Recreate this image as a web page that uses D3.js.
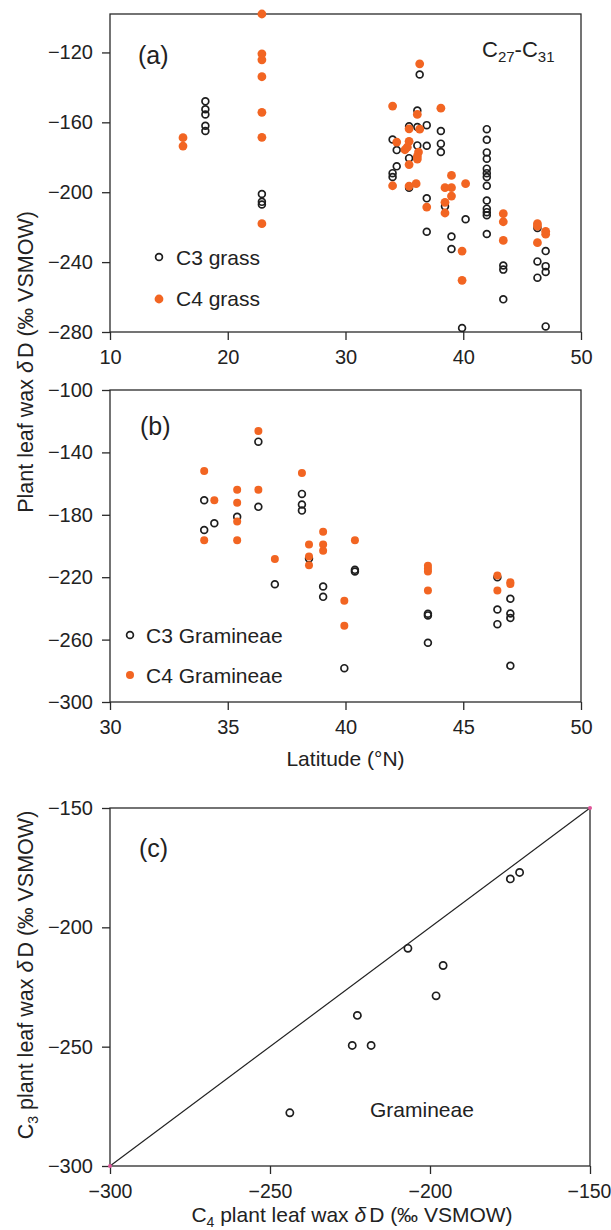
<!DOCTYPE html>
<html>
<head>
<meta charset="utf-8">
<script src="https://cdn.jsdelivr.net/npm/d3@7/dist/d3.min.js"></script>
<style>
  html, body { margin: 0; padding: 0; background: #fff; }
  svg { display: block; }
  text { font-family: "Liberation Sans", Arial, Helvetica, sans-serif; fill: #222; }
</style>
</head>
<body>
<svg id="chart" width="611" height="1230"></svg>
<script>
// ---------- DATA ----------
// Panel (a): C27-C31, [latitude °N, δD ‰]
const aC3 = [
  [18.1,-148],[18.1,-152.5],[18.1,-155.5],[18.1,-162],[18.1,-165],
  [22.9,-201],[22.9,-205.5],[22.9,-207],
  [36.3,-132.6],[36.1,-153.2],[34.0,-169.8],[35.4,-162.3],[36.1,-162.7],[36.9,-161.6],[38.1,-165],
  [34.35,-175.9],[36.1,-173.2],[36.9,-173.4],[38.1,-172.2],[38.1,-177],[35.4,-180.5],[34.35,-185.2],
  [34.0,-189.1],[34.0,-191.3],[35.4,-197.4],[36.9,-203.5],[38.45,-208.1],[36.9,-222.6],[39.0,-225.3],
  [39.0,-232.5],[40.2,-215.5],[39.9,-277.7],
  [42.0,-163.9],[42.0,-170],[42.0,-177.2],[42.0,-180.8],[42.0,-186.5],[42.0,-189.1],[42.0,-191.3],
  [42.0,-196.3],[42.0,-204.7],[42.0,-209.4],[42.0,-211.4],[42.0,-213.2],[42.0,-223.9],
  [43.4,-241.9],[43.4,-244.3],[43.4,-261.3],
  [46.3,-220.5],[46.3,-239.6],[46.3,-248.9],
  [47.0,-233.7],[47.0,-242.3],[47.0,-245.7],[47.0,-276.8]
];
const aC4 = [
  [16.2,-168.8],[16.2,-173.6],
  [22.9,-98],[22.9,-120.8],[22.9,-124.2],[22.9,-133.9],[22.9,-154.3],[22.9,-168.6],[22.9,-218],
  [36.3,-126.5],[34.0,-150.7],[38.1,-151.9],[36.1,-155.5],[35.4,-163.7],[36.3,-163.9],[34.35,-171.3],
  [35.4,-170.9],[35.25,-174.2],[35.05,-175.7],[36.2,-177],[36.1,-179.5],[36.1,-181],[35.4,-184.2],
  [34.0,-196.3],[35.4,-196.5],[36.0,-195.1],[39.0,-190.4],[38.45,-197.4],[39.0,-197.4],[39.0,-202.2],
  [40.2,-195.1],[38.45,-205.8],[36.9,-208.5],[38.45,-211.9],[39.9,-233.7],[39.9,-250.4],
  [43.4,-212.3],[43.4,-216.9],[43.4,-227.6],
  [46.3,-218],[46.3,-219.4],[47.0,-222.4],[47.0,-224],[46.3,-228.9]
];
// Panel (b): Gramineae, [latitude °N, δD ‰]
const bC3 = [
  [34.0,-170.7],[34.0,-189.7],[34.43,-185.4],[35.4,-181.3],[36.3,-133.1],[36.3,-174.9],[37.0,-224.5],
  [38.15,-166.6],[38.15,-173.4],[38.15,-177.3],[38.45,-208],[39.05,-226],[39.05,-232.6],[39.95,-278.3],
  [40.4,-215.3],[40.4,-216.3],[43.5,-243.4],[43.5,-244.5],[43.5,-262],
  [46.45,-220],[46.45,-240.7],[46.45,-250.1],[47.0,-233.8],[47.0,-243.3],[47.0,-246.2],[47.0,-276.8]
];
const bC4 = [
  [34.0,-151.9],[34.0,-196.3],[34.43,-170.7],[35.4,-164],[35.4,-172.2],[35.4,-184.3],[35.4,-196.3],
  [36.3,-126.3],[36.3,-164],[37.0,-208.4],[38.15,-153.2],[38.45,-199.1],[38.45,-206.8],[38.45,-212.3],
  [39.05,-190.9],[39.05,-199.1],[39.05,-203.1],[39.95,-235.1],[39.95,-251.1],[40.4,-196.3],
  [43.5,-212.7],[43.5,-214.6],[43.5,-216.3],[43.5,-228.5],
  [46.45,-218.9],[46.45,-228.5],[47.0,-223.2],[47.0,-224.4]
];
// Panel (c): [C4 δD, C3 δD]
const cPairs = [
  [-174.9,-179.7],[-172.0,-177.0],[-206.9,-208.8],[-195.9,-216.0],[-198.1,-228.7],
  [-222.7,-236.9],[-224.3,-249.5],[-218.4,-249.5],[-243.8,-277.7]
];
const cLine = [[-300,-300],[-150,-150]];

const aXTicks = [10,20,30,40,50];
const aYTicks = [-280,-240,-200,-160,-120];
const bXTicks = [30,35,40,45,50];
const bYTicks = [-300,-260,-220,-180,-140,-100];
const cTicks = [-300,-250,-200,-150];

// ---------- DRAWING ----------
const svg = d3.select("#chart");
const ORANGE = "#f26522";
const INK = "#1e1e1e";
const FS = 20;

function frame(g, x0, x1, y0, y1) {
  g.append("rect").attr("x", x0).attr("y", y0).attr("width", x1 - x0).attr("height", y1 - y0)
    .attr("fill", "none").attr("stroke", "#2a2a2a").attr("stroke-width", 1.3);
}
function styleAxis(sel, fs) {
  sel.select(".domain").remove();
  sel.selectAll(".tick line").attr("stroke", "#2a2a2a").attr("stroke-width", 1.3);
  sel.selectAll(".tick text").attr("font-size", fs || FS).attr("fill", "#222")
    .style("font-family", '"Liberation Sans", Arial, sans-serif');
}
const fmt = d3.format("d");

function panel(opts) {
  const g = svg.append("g");
  const x = d3.scaleLinear().domain(opts.xDom).range([opts.x0, opts.x1]);
  const y = d3.scaleLinear().domain(opts.yDom).range([opts.y1, opts.y0]);
  const ax = g.append("g").attr("transform", `translate(0,${opts.y1})`)
    .call(d3.axisBottom(x).tickValues(opts.xTicks).tickFormat(fmt).tickSize(8).tickSizeOuter(0).tickPadding(10));
  styleAxis(ax, opts.xfs);
  ax.selectAll(".tick text").attr("dy", "0.71em");
  const ay = g.append("g").attr("transform", `translate(${opts.x0},0)`)
    .call(d3.axisLeft(y).tickValues(opts.yTicks).tickFormat(fmt).tickSize(8).tickSizeOuter(0).tickPadding(9));
  styleAxis(ay);
  frame(g, opts.x0, opts.x1, opts.y0, opts.y1);
  return {g, x, y, ax};
}

function openPts(g, data, x, y, r) {
  g.append("g").selectAll("circle").data(data).join("circle")
    .attr("cx", d => x(d[0])).attr("cy", d => y(d[1])).attr("r", r)
    .attr("fill", "none").attr("stroke", INK).attr("stroke-width", 1.7);
}
function fillPts(g, data, x, y, r) {
  g.append("g").selectAll("circle").data(data).join("circle")
    .attr("cx", d => x(d[0])).attr("cy", d => y(d[1])).attr("r", r)
    .attr("fill", ORANGE);
}

// Panel (a)
const A = panel({xDom: [10, 50], yDom: [-280, -98], x0: 110, x1: 581, y0: 14, y1: 332,
  xTicks: aXTicks, yTicks: aYTicks});
openPts(A.g, aC3, A.x, A.y, 3.4);
fillPts(A.g, aC4, A.x, A.y, 4.4);
A.g.append("text").attr("x", 138).attr("y", 64).attr("font-size", 25).text("(a)");
const lab = A.g.append("text").attr("x", 482).attr("y", 57).attr("font-size", 22);
lab.append("tspan").text("C");
lab.append("tspan").attr("font-size", 15).attr("dy", 5).text("27");
lab.append("tspan").attr("dy", -5).text("-C");
lab.append("tspan").attr("font-size", 15).attr("dy", 5).text("31");
A.g.append("circle").attr("cx", 159).attr("cy", 257).attr("r", 3.4).attr("fill", "none").attr("stroke", INK).attr("stroke-width", 1.7);
A.g.append("text").attr("x", 176).attr("y", 265).attr("font-size", 21).text("C3 grass");
A.g.append("circle").attr("cx", 159).attr("cy", 299).attr("r", 4.4).attr("fill", ORANGE);
A.g.append("text").attr("x", 176).attr("y", 306).attr("font-size", 21).text("C4 grass");

// Panel (b)
const B = panel({xDom: [30, 50], yDom: [-300, -100], x0: 110, x1: 581, y0: 390, y1: 702,
  xTicks: bXTicks, yTicks: bYTicks});
openPts(B.g, bC3, B.x, B.y, 3.4);
fillPts(B.g, bC4, B.x, B.y, 4.0);
B.g.append("text").attr("x", 140).attr("y", 435).attr("font-size", 25).text("(b)");
B.g.append("circle").attr("cx", 130).attr("cy", 635).attr("r", 3.4).attr("fill", "none").attr("stroke", INK).attr("stroke-width", 1.7);
B.g.append("text").attr("x", 146).attr("y", 643).attr("font-size", 21).text("C3 Gramineae");
B.g.append("circle").attr("cx", 130).attr("cy", 675).attr("r", 4.0).attr("fill", ORANGE);
B.g.append("text").attr("x", 146).attr("y", 683).attr("font-size", 21).text("C4 Gramineae");
svg.append("text").attr("x", 345.5).attr("y", 766).attr("text-anchor", "middle").attr("font-size", 21).text("Latitude (°N)");

// shared y title for (a) and (b)
const yt = svg.append("text").attr("transform", "translate(33,362) rotate(-90)")
  .attr("text-anchor", "middle").attr("font-size", 21.5);
yt.append("tspan").text("Plant leaf wax ");
yt.append("tspan").attr("font-style", "italic").text("δ");
yt.append("tspan").attr("dx", 3).text("D (‰ VSMOW)");

// Panel (c)
const C = panel({xDom: [-300, -150], yDom: [-300, -150], x0: 110, x1: 590, y0: 808, y1: 1166,
  xTicks: cTicks, yTicks: cTicks, xfs: 19.5});
C.ax.selectAll(".tick text").filter(d => d === -150).attr("dx", -1);
C.g.append("path").datum(cLine)
  .attr("d", d3.line().x(d => C.x(d[0])).y(d => C.y(d[1])))
  .attr("stroke", "#222").attr("stroke-width", 1.2).attr("fill", "none");
C.g.append("g").selectAll("circle").data(cLine).join("circle")
  .attr("cx", d => C.x(d[0])).attr("cy", d => C.y(d[1])).attr("r", 2).attr("fill", "#e0559a");
openPts(C.g, cPairs, C.x, C.y, 3.6);
C.g.append("text").attr("x", 139).attr("y", 857).attr("font-size", 25).text("(c)");
C.g.append("text").attr("x", 370).attr("y", 1117).attr("font-size", 21).text("Gramineae");

const xt = svg.append("text").attr("x", 352).attr("y", 1222).attr("text-anchor", "middle").attr("font-size", 21);
xt.append("tspan").text("C");
xt.append("tspan").attr("font-size", 14).attr("dy", 5).text("4");
xt.append("tspan").attr("dy", -5).text(" plant leaf wax ");
xt.append("tspan").attr("font-style", "italic").text("δ");
xt.append("tspan").attr("dx", 3).text("D (‰ VSMOW)");

const ct = svg.append("text").attr("transform", "translate(33,975) rotate(-90)")
  .attr("text-anchor", "middle").attr("font-size", 21.5);
ct.append("tspan").text("C");
ct.append("tspan").attr("font-size", 14).attr("dy", 5).text("3");
ct.append("tspan").attr("dy", -5).text(" plant leaf wax ");
ct.append("tspan").attr("font-style", "italic").text("δ");
ct.append("tspan").attr("dx", 3).text("D (‰ VSMOW)");
</script>
</body>
</html>
